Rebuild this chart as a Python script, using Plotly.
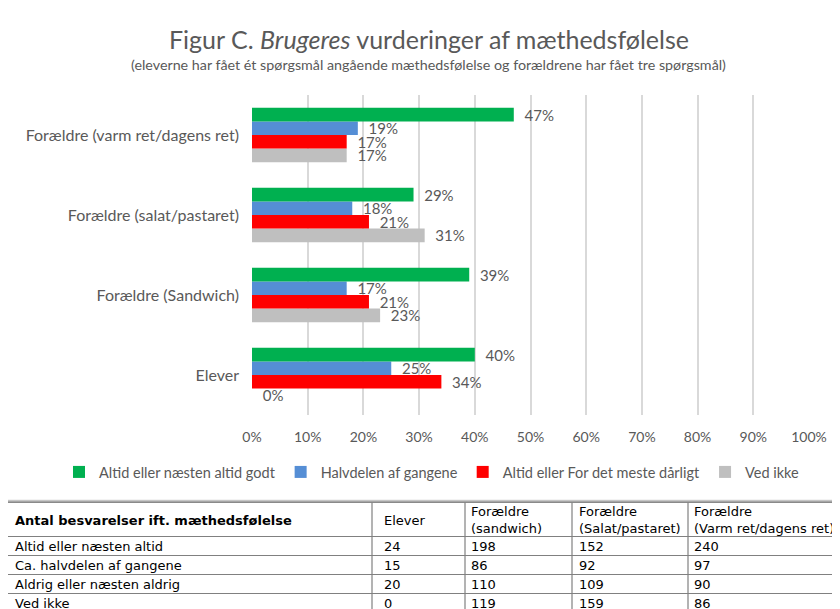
import plotly.graph_objects as go

# page body adds an 8px offset; size the figure to the remaining visible window
OX, OY = 8, 8
W, H = 840 - OX, 609 - OY

# ---- chart data (shares) ----
categories = ["Elever", "Forældre (Sandwich)", "Forældre (salat/pastaret)", "Forældre (varm ret/dagens ret)"]
series_names = ["Altid eller næsten altid godt", "Halvdelen af gangene",
                "Altid eller For det meste dårligt", "Ved ikke"]
green_vals = [0.40, 0.39, 0.29, 0.47]
blue_vals = [0.25, 0.17, 0.18, 0.19]
red_vals = [0.34, 0.21, 0.21, 0.17]
gray_vals = [0.00, 0.23, 0.31, 0.17]
x_ticks = [0, 0.1, 0.2, 0.3, 0.4, 0.5, 0.6, 0.7, 0.8, 0.9, 1.0]
x_tick_labels = ["0%", "10%", "20%", "30%", "40%", "50%", "60%", "70%", "80%", "90%", "100%"]

# ---- table data (counts) ----
table_header = ["<b>Antal besvarelser ift. mæthedsfølelse</b>", "Elever",
                "Forældre<br>(sandwich)", "Forældre<br>(Salat/pastaret)", "Forældre<br>(Varm ret/dagens ret)"]
row_labels = ["Altid eller næsten altid", "Ca. halvdelen af gangene",
              "Aldrig eller næsten aldrig", "Ved ikke"]
elever_n = [24, 15, 20, 0]
sandwich_n = [198, 86, 110, 119]
salat_n = [152, 92, 109, 159]
varm_n = [240, 97, 90, 86]

# ---- layout constants (window pixels) ----
col_edges = [5, 372, 465, 572, 688, 850]
col_pad = [8, 10, 4, 5, 4]
row_edges = [502.5, 536.5, 555.5, 574.5, 593.5, 612.5]

colors = ["#00B050", "#558ED5", "#FF0000", "#BFBFBF"]
TXT = "#595959"
FONT = "Lato"
TFONT = "DejaVu Sans"


def px(x):
    return (x - OX) / W


def py(y):
    return 1 - (y - OY) / H


fig = go.Figure()
vals = [green_vals, blue_vals, red_vals, gray_vals]
# add in reverse so green sits on top of each group
for i in [3, 2, 1, 0]:
    fig.add_trace(go.Bar(
        y=categories, x=vals[i], orientation="h", name=series_names[i],
        marker=dict(color=colors[i], line=dict(width=0)),
        text=[f"\u00a0\u00a0{round(v * 100)}%" for v in vals[i]], textposition="outside",
        textfont=dict(family=FONT, size=15, color=TXT),
        constraintext="none", cliponaxis=False,
    ))

shapes = [dict(type="rect", xref="paper", yref="paper", x0=px(5.5), x1=1.05,
               y0=py(500.5), y1=py(5), line=dict(color="#D0D0D0", width=1.5),
               layer="below")]
annotations = [dict(
    text="(eleverne har fået ét spørgsmål angående mæthedsfølelse og forældrene har fået tre spørgsmål)",
    xref="paper", yref="paper", x=px(428), y=py(64), xanchor="center", yanchor="middle",
    showarrow=False, font=dict(family=FONT, size=14.3, color=TXT))]

# table grid
LC = "#808080"
for yy in row_edges:
    shapes.append(dict(type="line", xref="paper", yref="paper", x0=px(col_edges[0]), x1=1.05,
                       y0=py(yy), y1=py(yy), line=dict(color=LC, width=1.2)))
shapes.append(dict(type="line", xref="paper", yref="paper", x0=px(col_edges[0]), x1=1.05,
                   y0=py(row_edges[0] - 1), y1=py(row_edges[0] - 1),
                   line=dict(color="#A6A6A6", width=1.5)))
for xx in col_edges[:-1]:
    shapes.append(dict(type="line", xref="paper", yref="paper", x0=px(xx), x1=px(xx),
                       y0=py(row_edges[0]), y1=py(row_edges[-1]), line=dict(color=LC, width=1.2)))

columns = [row_labels, elever_n, sandwich_n, salat_n, varm_n]
for c, head in enumerate(table_header):
    xl = px(col_edges[c] + col_pad[c])
    annotations.append(dict(text=head, xref="paper", yref="paper", x=xl,
                            y=py((row_edges[0] + row_edges[1]) / 2 + 0.5),
                            xanchor="left", yanchor="middle", align="left", showarrow=False,
                            font=dict(family=TFONT, size=13, color="black")))
    for r, v in enumerate(columns[c]):
        annotations.append(dict(text=str(v), xref="paper", yref="paper", x=xl,
                                y=py((row_edges[r + 1] + row_edges[r + 2]) / 2),
                                xanchor="left", yanchor="middle", showarrow=False,
                                font=dict(family=TFONT, size=13, color="black")))

fig.update_layout(
    width=W, height=H, margin=dict(l=0, r=0, t=0, b=0, autoexpand=False),
    paper_bgcolor="white", plot_bgcolor="white",
    barmode="group", bargap=0.32, bargroupgap=0,
    showlegend=True,
    legend=dict(orientation="h", traceorder="reversed", x=px(432), xanchor="center",
                y=py(472), yanchor="middle", bgcolor="rgba(0,0,0,0)",
                font=dict(family=FONT, size=14.5, color=TXT)),
    xaxis=dict(domain=[px(252), px(809)], range=[0, 1], tickvals=x_ticks,
               ticktext=x_tick_labels, showgrid=True, gridcolor="#D9D9D9", gridwidth=1.5,
               zeroline=False, showline=False, ticks="", ticklabelstandoff=12,
               tickfont=dict(family=FONT, size=14, color=TXT), fixedrange=True),
    yaxis=dict(domain=[py(415), py(95)], categoryorder="array",
               categoryarray=categories, showgrid=False, zeroline=False, showline=False,
               ticks="", ticklabelstandoff=12,
               tickfont=dict(family=FONT, size=16, color=TXT), fixedrange=True),
    title=dict(text="Figur C. <i>Brugeres</i> vurderinger af mæthedsfølelse",
               x=px(429), xanchor="center", y=py(40), yanchor="middle",
               font=dict(family=FONT, size=25, color=TXT)),
    annotations=annotations,
    shapes=shapes,
)

fig.write_html("out.html")
